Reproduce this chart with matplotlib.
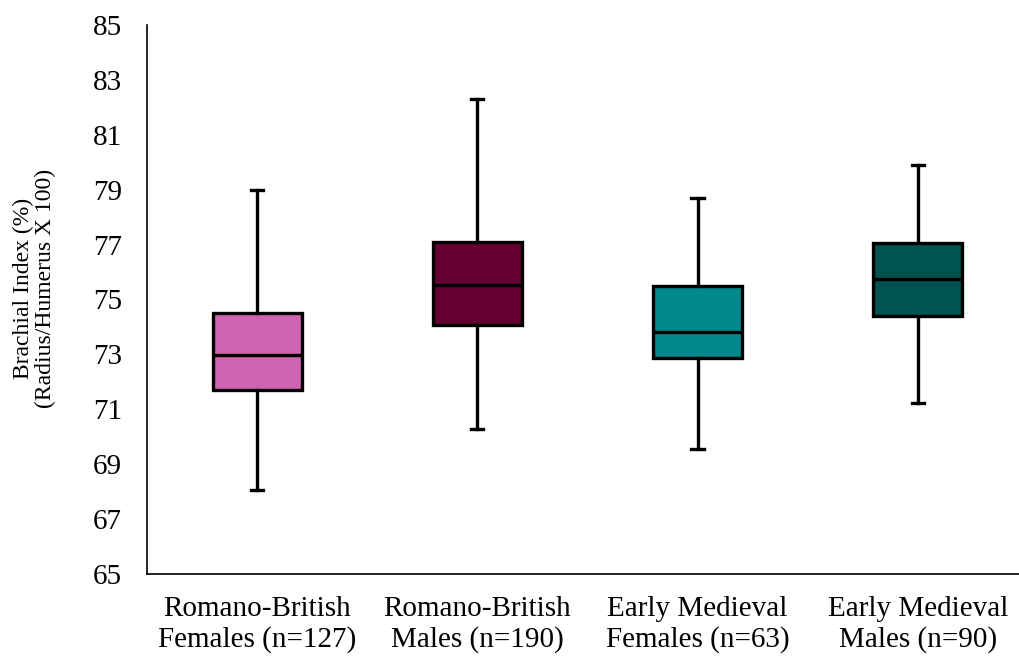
import matplotlib
matplotlib.use("Agg")
import matplotlib.pyplot as plt

plt.rcParams['font.family'] = ['Liberation Serif', 'DejaVu Serif']

# groups and five-number summaries
groups = ["Romano-British\nFemales (n=127)", "Romano-British\nMales (n=190)",
          "Early Medieval\nFemales (n=63)", "Early Medieval\nMales (n=90)"]
whis_lo = [68.06, 70.27, 69.54, 71.24]
q1 = [71.70, 74.07, 72.86, 74.41]
med = [72.98, 75.53, 73.83, 75.73]
q3 = [74.49, 77.08, 75.49, 77.07]
whis_hi = [79.00, 82.29, 78.69, 79.90]
colors = ["#CF63AF", "#660033", "#00898A", "#00524F"]
yticks = [65, 67, 69, 71, 73, 75, 77, 79, 81, 83, 85]

stats = []
for i in range(len(groups)):
    stats.append({"whislo": whis_lo[i], "q1": q1[i], "med": med[i],
                  "q3": q3[i], "whishi": whis_hi[i], "fliers": []})

fig = plt.figure(figsize=(10.19, 6.57), dpi=100)
ax = fig.add_axes([0.1443, 0.1263, 0.8557, 0.8357])

lw = 2.4
bp = ax.bxp(stats, positions=range(len(groups)), widths=0.405,
            patch_artist=True, showfliers=False, capwidths=0.055,
            boxprops=dict(linewidth=lw, edgecolor="black"),
            medianprops=dict(color="black", linewidth=lw),
            whiskerprops=dict(color="black", linewidth=lw),
            capprops=dict(color="black", linewidth=lw))
for patch, c in zip(bp["boxes"], colors):
    patch.set_facecolor(c)

ax.set_xlim(-0.5, 3.46)
ax.set_ylim(65, 85)
ax.set_yticks(yticks)
ax.set_xticks(range(len(groups)))
ax.set_xticklabels(groups)
ax.tick_params(axis="y", length=0, pad=18, labelsize=21)
ax.tick_params(axis="x", length=0, pad=16, labelsize=21)

for s in ["top", "right"]:
    ax.spines[s].set_visible(False)
for s in ["left", "bottom"]:
    ax.spines[s].set_linewidth(1.2)
    ax.spines[s].set_color("black")

ax.set_ylabel("Brachial Index (%)\n(Radius/Humerus X 100)", fontsize=17,
              linespacing=1.05)
ax.yaxis.set_label_coords(-0.104, 0.521)

fig.savefig("out.png", dpi=100)
